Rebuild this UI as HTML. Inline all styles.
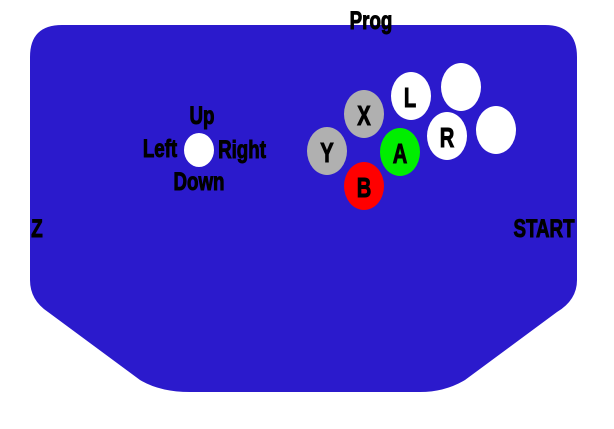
<!DOCTYPE html>
<html><head><meta charset="utf-8"><style>
html,body{margin:0;padding:0;background:#fff;}
svg{display:block;}
text{font-family:"Liberation Sans",sans-serif;font-weight:bold;fill:#000;stroke:#000;stroke-width:1;}
</style></head><body>
<svg width="614" height="429" viewBox="0 0 614 429" xmlns="http://www.w3.org/2000/svg">
<path d="M62,25 L545,25 Q577,25 577,57 L577,280 Q577,300 557,312 L465,380 Q445,392 420,392 L190,392 Q160,392 140,380 L48,312 Q30,300 30,280 L30,57 Q30,25 62,25 Z" fill="#2b1acc"/>
<ellipse cx="199" cy="150" rx="15" ry="17" fill="#fff"/>
<ellipse cx="364" cy="114" rx="20" ry="24" fill="#b0b0b0"/>
<ellipse cx="327" cy="151" rx="20" ry="24" fill="#b0b0b0"/>
<ellipse cx="400" cy="152" rx="20" ry="24" fill="#00ee00"/>
<ellipse cx="364" cy="186" rx="20" ry="24" fill="#ff0000"/>
<ellipse cx="411" cy="96" rx="20" ry="24" fill="#fff"/>
<ellipse cx="461" cy="87" rx="20" ry="24" fill="#fff"/>
<ellipse cx="447" cy="136" rx="20" ry="24" fill="#fff"/>
<ellipse cx="496" cy="130" rx="20" ry="24" fill="#fff"/>
<g text-anchor="middle">
<text font-size="28" transform="translate(364,125) scale(0.72,1)">X</text>
<text font-size="28" transform="translate(327,162) scale(0.72,1)">Y</text>
<text font-size="28" transform="translate(400,163) scale(0.72,1)">A</text>
<text font-size="28" transform="translate(364,197) scale(0.72,1)">B</text>
<text font-size="28" transform="translate(410,107) scale(0.72,1)">L</text>
<text font-size="28" transform="translate(447,147) scale(0.72,1)">R</text>
<text font-size="25" transform="translate(371,29) scale(0.75,1)">Prog</text>
<text font-size="25" transform="translate(202,124) scale(0.75,1)">Up</text>
<text font-size="25" transform="translate(160,157) scale(0.75,1)">Left</text>
<text font-size="25" transform="translate(242,158) scale(0.75,1)">Right</text>
<text font-size="25" transform="translate(199,190) scale(0.75,1)">Down</text>
<text font-size="25" transform="translate(37,237) scale(0.75,1)">Z</text>
<text font-size="25" transform="translate(544,237) scale(0.75,1)">START</text>
</g>
</svg>
</body></html>
